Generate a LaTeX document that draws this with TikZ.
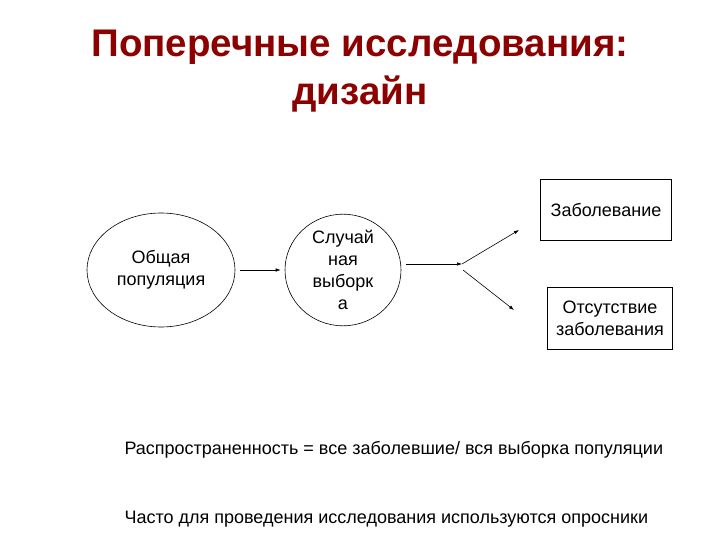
\documentclass[tikz,border=0pt]{standalone}
\usepackage{fontspec}
\setmainfont{Liberation Sans}
\usepackage{xcolor}
\usetikzlibrary{shapes,arrows.meta,positioning}
\definecolor{titlered}{RGB}{140,0,0}

\begin{document}
\begin{tikzpicture}[x=1pt, y=-1pt, node distance=182pt, every node/.style={align=center, font=\fontsize{18}{21.8}\selectfont},
    oval/.style={ellipse, draw, line width=0.6pt, inner sep=0pt},
    outcome/.style={rectangle, draw, line width=0.6pt, minimum height=61pt},
    arr/.style={-{Latex[length=5pt,width=3.5pt]}, line width=0.6pt}]
    \useasboundingbox (0,0) rectangle (720,540);
    \node [font=\fontsize{38.5}{48}\selectfont\bfseries, text=titlered] (title) at (360,71) {Поперечные исследования:\\дизайн};

    \node [oval, minimum width=148pt, minimum height=114pt] (pop) at (161,270) {Общая\\популяция};
    \node [oval, right of=pop, minimum width=116pt, minimum height=108pt] (sample) {Случай\\ная\\выборк\\а};
    \node [outcome, minimum width=131pt] (ill) at (606,210) {Заболевание};
    \node [outcome, minimum width=125pt, minimum height=62pt] (healthy) at (610,318) {Отсутствие\\заболевания};

    \coordinate (fork) at (462,264);
    \coordinate (forklow) at (463,270);
    \coordinate (upend) at (519,230);
    \coordinate (downend) at (514,310);

    \draw [arr] ([xshift=5pt]pop.east) -- ([xshift=-4pt]sample.west);
    \draw [arr] ([xshift=5pt]sample.east |- fork) -- (fork);
    \draw [arr] (fork) -- (upend);
    \draw [arr] (forklow) -- (downend);

    \node [anchor=west] (prev) at (121,450) {Распространенность = все заболевшие/ вся выборка популяции};
    \node [anchor=west] (note) at (121,519) {Часто для проведения исследования используются опросники};
\end{tikzpicture}
\end{document}
